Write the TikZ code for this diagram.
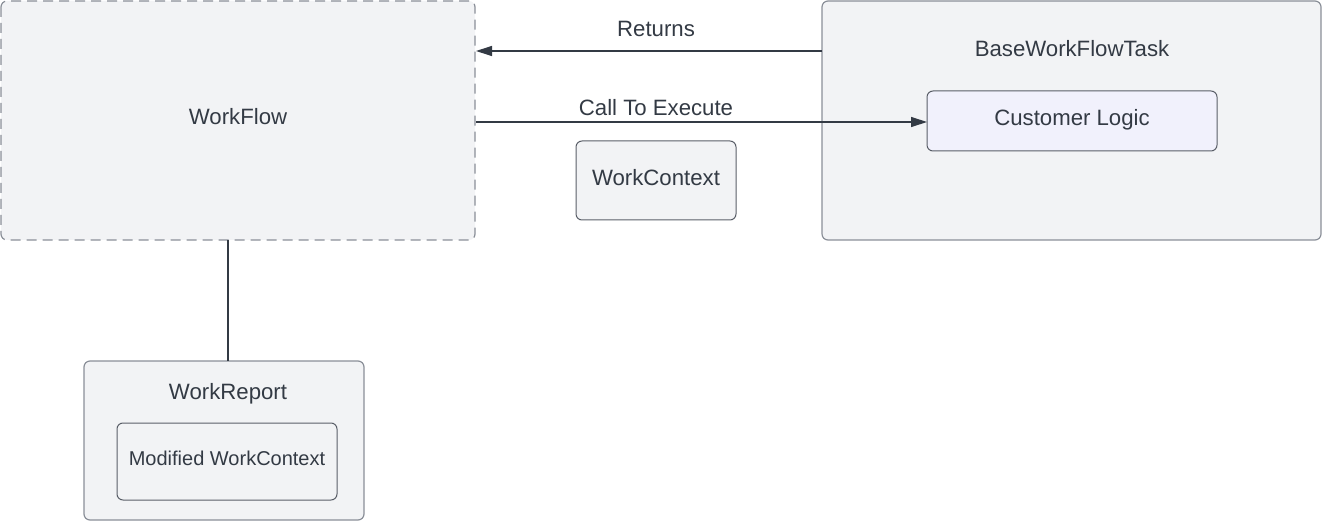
\documentclass[tikz,border=0pt]{standalone}
\usepackage{fontspec}
\setmainfont{Liberation Sans}
\usetikzlibrary{arrows.meta}
\definecolor{boxfill}{HTML}{F2F3F5}
\definecolor{boxline}{HTML}{8A8F98}
\definecolor{innerline}{HTML}{5A5F68}
\definecolor{lavender}{HTML}{F1F1FC}
\definecolor{ink}{HTML}{333A44}
\tikzset{
  box/.style={draw=boxline, fill=boxfill, line width=1.2pt, rounded corners=6pt},
  innerbox/.style={draw=innerline, line width=1pt, rounded corners=6pt},
  lbl/.style={text=ink, font=\fontsize{22.2}{26}\selectfont, inner sep=0pt, anchor=base},
  conn/.style={draw=ink, line width=1.2pt},
  arr/.style={conn, -{Triangle[length=16pt,width=10pt]}}
}
\begin{document}
\begin{tikzpicture}[x=1pt,y=-1pt]
\useasboundingbox (0,0) rectangle (1322,521);
% boxes
\draw[box, dashed, dash pattern=on 10pt off 6pt] (1,1) rectangle (475,240);
\node[lbl] (wf) at (238,125) {WorkFlow};
\coordinate (wfR1) at (476,51);
\coordinate (wfR2) at (476,122);
\coordinate (wfB) at (228,240);

\draw[box] (822,1) rectangle (1321,240);
\node[lbl] (bwt) at (1072,56.7) {BaseWorkFlowTask};
\coordinate (bwtL) at (822,51);

\draw[innerbox, fill=lavender] (927,91) rectangle (1217,151);
\node[lbl] (cl) at (1072,125.7) {Customer Logic};
\coordinate (clL) at (927,122);

\draw[innerbox, fill=boxfill] (576,141) rectangle (736,220);
\node[lbl] (wc) at (656,186) {WorkContext};

\draw[box] (84,361) rectangle (364,520);
\node[lbl] (wr) at (228,399) {WorkReport};
\coordinate (wrT) at (228,361);

\draw[innerbox] (117,423) rectangle (337,500);
\node[lbl, font=\fontsize{20}{24}\selectfont] (mwc) at (227,465) {Modified WorkContext};

% connectors
\draw[arr] (bwtL) -- (wfR1);
\node[lbl] (ret) at (656,36.7) {Returns};
\draw[arr] (wfR2) -- (clL);
\node[lbl] (cte) at (656,116) {Call To Execute};
\draw[conn] (wfB) -- (wrT);
\end{tikzpicture}
\end{document}
